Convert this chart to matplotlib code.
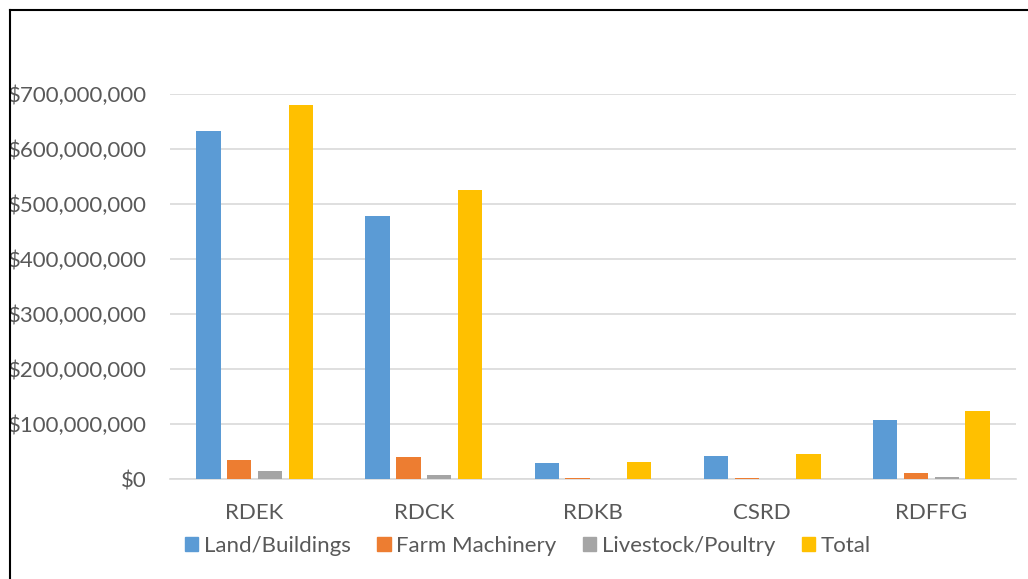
import numpy as np
import matplotlib
matplotlib.use('Agg')
import matplotlib.pyplot as plt
from matplotlib.lines import Line2D
from matplotlib.ticker import FuncFormatter

# Data
regions = ['RDEK', 'RDCK', 'RDKB', 'CSRD', 'RDFFG']
land_buildings = [632e6, 478e6, 28.5e6, 42e6, 107e6]
farm_machinery = [34.5e6, 40e6, 1.5e6, 2.5e6, 11e6]
livestock_poultry = [14e6, 7e6, 0.3e6, 0.3e6, 4e6]
total = [680e6, 526e6, 31.5e6, 45.5e6, 123e6]

series_names = ['Land/Buildings', 'Farm Machinery', 'Livestock/Poultry', 'Total']
series_values = [land_buildings, farm_machinery, livestock_poultry, total]
colors = ['#5B9BD5', '#ED7D31', '#A5A5A5', '#FFC000']

plt.rcParams['font.family'] = ['Lato', 'DejaVu Sans']
text_color = '#595959'

fig = plt.figure(figsize=(10.28, 5.79), dpi=100)
ax = fig.add_axes([170 / 1028, 1 - 479 / 579, 846 / 1028, 385 / 579])

x = np.arange(len(regions))
bar_w = 0.145
step = 0.182
for i, (name, vals, c) in enumerate(zip(series_names, series_values, colors)):
    offset = (i - 1.5) * step
    ax.bar(x + offset, vals, width=bar_w, color=c, label=name, zorder=3)

ax.set_xlim(-0.5, len(regions) - 0.5)
ax.set_ylim(0, 700e6)
ax.set_yticks(np.arange(0, 700e6 + 1, 100e6))
ax.yaxis.set_major_formatter(FuncFormatter(lambda v, p: '${:,.0f}'.format(v)))
ax.set_xticks(x)
ax.set_xticklabels(regions)

ax.grid(axis='y', color='#d9d9d9', linewidth=1.2, zorder=0)
for s in ['top', 'right', 'left']:
    ax.spines[s].set_visible(False)
ax.spines['bottom'].set_color('#d9d9d9')
ax.spines['bottom'].set_linewidth(1.2)
ax.tick_params(axis='both', length=0, labelsize=16, colors=text_color)
ax.tick_params(axis='x', pad=17)
ax.tick_params(axis='y', pad=16.5)

handles = [plt.Rectangle((0, 0), 1, 1, color=c) for c in colors]
fig.legend(handles, series_names, loc='center', bbox_to_anchor=(528 / 1028, 1 - 546 / 579),
           ncol=4, frameon=False, fontsize=16, labelcolor=text_color,
           handlelength=0.6, handleheight=0.6, handletextpad=0.25, columnspacing=1.2)

# chart border (left and top edges visible)
fig.add_artist(Line2D([10 / 1028, 10 / 1028], [0, 1 - 10 / 579], color='black', linewidth=1.5))
fig.add_artist(Line2D([10 / 1028, 1], [1 - 10 / 579, 1 - 10 / 579], color='black', linewidth=1.5))

fig.savefig('out.png', dpi=100)
